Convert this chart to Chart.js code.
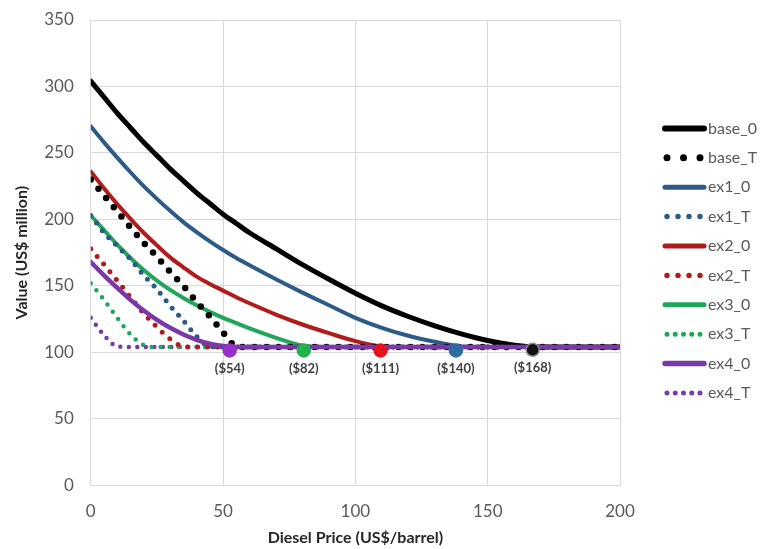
<!DOCTYPE html>
<html lang="en">

<head>
   <meta charset="UTF-8">
   <title>Diesel Price chart</title>
   <style>
      body {
         margin: 0;
         background: #fff;
      }

      .canvasWindow {
         width: 767px;
         height: 549px;
      }
   </style>
</head>

<body>
   <div class="canvasWindow">
      <canvas id="myChartLine" width="767" height="549"></canvas>
   </div>
   <script src="https://cdn.jsdelivr.net/npm/chart.js@4.4.0/dist/chart.umd.min.js"></script>
   <script>
      // diesel price (US$/barrel)
      var xs = [0, 5, 10, 15, 20, 25, 30, 35, 40, 45, 50, 55, 60, 70, 80, 90, 100, 110, 120, 130, 140, 150, 160, 170, 180, 190, 200];

      // value (US$ million)
      var base0 = [304, 292, 280, 269, 258, 248, 238, 229, 220, 212, 204, 197, 190, 178, 166, 155, 144.5, 135, 127, 120, 114, 109, 105.5, 104, 104, 104, 104];
      var baseT = [230, 218, 206, 194, 182.5, 172, 160.5, 150, 138, 127, 115, 104.5, 104, 104, 104, 104, 104, 104, 104, 104, 104, 104, 104, 104, 104, 104, 104];
      var ex1_0 = [270, 258, 246.5, 235.5, 225, 215.5, 206.5, 198, 190.5, 183.5, 177, 171, 165.5, 155, 145, 135.5, 126, 118.5, 112.5, 108, 104.5, 104, 104, 104, 104, 104, 104];
      var ex1_T = [203, 190, 180, 170, 158, 147.5, 135, 124, 112, 104.5, 104, 104, 104, 104, 104, 104, 104, 104, 104, 104, 104, 104, 104, 104, 104, 104, 104];
      var ex2_0 = [236, 223.5, 211.5, 200.5, 190, 180.5, 171.5, 164, 157, 151.5, 146.5, 141.5, 137, 128.5, 121, 114.5, 108.5, 104.5, 104, 104, 104, 104, 104, 104, 104, 104, 104];
      var ex2_T = [178, 166, 154, 141.5, 129.5, 119, 110, 104.5, 104, 104, 104, 104, 104, 104, 104, 104, 104, 104, 104, 104, 104, 104, 104, 104, 104, 104, 104];
      var ex3_0 = [203, 192, 181, 171, 162, 154, 147, 141, 135.5, 130.5, 126, 122, 118, 111, 105, 104, 104, 104, 104, 104, 104, 104, 104, 104, 104, 104, 104];
      var ex3_T = [152, 139.5, 126, 113.5, 105.5, 104, 104, 104, 104, 104, 104, 104, 104, 104, 104, 104, 104, 104, 104, 104, 104, 104, 104, 104, 104, 104, 104];
      var ex4_0 = [168, 158, 148.5, 139.5, 131.5, 124.5, 118.5, 113.5, 109.5, 106.5, 104.8, 104, 104, 104, 104, 104, 104, 104, 104, 104, 104, 104, 104, 104, 104, 104, 104];
      var ex4_T = [126, 113, 104.5, 104, 104, 104, 104, 104, 104, 104, 104, 104, 104, 104, 104, 104, 104, 104, 104, 104, 104, 104, 104, 104, 104, 104, 104];

      // break-even markers
      var markerX = [52.5, 80.5, 109.5, 138, 167];
      var markerY = [101.5, 101.5, 101.5, 101.5, 102];
      var markerLabels = ['($54)', '($82)', '($111)', '($140)', '($168)'];
      var markerColors = ['#9530c8', '#22b24c', '#e3141c', '#2e6ca4', '#111111'];
      var markerRims = ['#9530c8', '#22b24c', '#e3141c', '#2e6ca4', '#8c8c8c'];

      var FONT = 'Lato, "Open Sans", sans-serif';

      var toPoints = function (ys) {
         return ys.map(function (y, i) {
            return { x: xs[i], y: y };
         });
      };

      var solid = function (label, ys, color, width, order) {
         return {
            label: label,
            data: toPoints(ys),
            borderColor: color,
            backgroundColor: color,
            borderWidth: width,
            borderCapStyle: 'round',
            pointRadius: 0,
            cubicInterpolationMode: 'monotone',
            order: order
         };
      };

      var dotted = function (label, ys, color, width, gap, legendDots) {
         return {
            label: label,
            data: toPoints(ys),
            borderColor: color,
            backgroundColor: color,
            borderWidth: width,
            borderDash: [0, gap],
            borderCapStyle: 'round',
            pointRadius: 0,
            cubicInterpolationMode: 'monotone',
            legendDots: legendDots,
            order: 2
         };
      };

      var markerData = markerX.map(function (x, i) {
         return { x: x, y: markerY[i] };
      });

      //labels under the markers
      var markerLabelPlugin = {
         id: 'markerLabels',
         afterDatasetsDraw: function (chart) {
            var ctx = chart.ctx;
            var sx = chart.scales.x;
            var sy = chart.scales.y;
            ctx.save();
            ctx.font = 'bold 13px ' + FONT;
            ctx.fillStyle = '#404040';
            ctx.textAlign = 'center';
            ctx.textBaseline = 'middle';
            markerLabels.forEach(function (t, i) {
               ctx.fillText(t, sx.getPixelForValue(markerX[i]), sy.getPixelForValue(markerY[i]) + 18);
            });
            ctx.restore();
         }
      };

      //legend on the right, line samples + names
      var sideLegendPlugin = {
         id: 'sideLegend',
         afterDraw: function (chart) {
            var ctx = chart.ctx;
            var area = chart.chartArea;
            var sets = chart.data.datasets.filter(function (d) { return d.label !== 'markers'; });
            var rowH = 29.4;
            var x0 = area.right + 43;
            var y0 = (area.top + area.bottom) / 2 + 8 - rowH * (sets.length - 1) / 2;
            ctx.save();
            sets.forEach(function (d, i) {
               var y = y0 + i * rowH;
               ctx.beginPath();
               ctx.strokeStyle = d.borderColor;
               ctx.lineCap = 'round';
               if (d.borderDash) {
                  var n = d.legendDots;
                  var step = 33 / (n - 1);
                  ctx.lineWidth = d.borderWidth + 0.5;
                  ctx.setLineDash([0, step]);
                  ctx.moveTo(x0 + 4, y);
                  ctx.lineTo(x0 + 38, y);
               } else {
                  ctx.lineWidth = d.borderWidth + 1;
                  ctx.setLineDash([]);
                  ctx.moveTo(x0 + 2, y);
                  ctx.lineTo(x0 + 41, y);
               }
               ctx.stroke();
               ctx.setLineDash([]);
               ctx.font = '16px ' + FONT;
               ctx.fillStyle = '#595959';
               ctx.textAlign = 'left';
               ctx.textBaseline = 'middle';
               ctx.fillText(d.label, x0 + 45, y);
            });
            ctx.restore();
         }
      };

      var ctxLine = document.getElementById('myChartLine');
      var myLineChart = new Chart(ctxLine, {
         type: 'line',
         data: {
            datasets: [
               solid('base_0', base0, '#000000', 5, 6),
               dotted('base_T', baseT, '#000000', 6.5, 12, 3),
               solid('ex1_0', ex1_0, '#2c5b87', 4, 5),
               dotted('ex1_T', ex1_T, '#2c5b87', 5, 9.5, 4),
               solid('ex2_0', ex2_0, '#b01c1c', 4, 4),
               dotted('ex2_T', ex2_T, '#b01c1c', 5, 10, 4),
               solid('ex3_0', ex3_0, '#1fa65a', 4, 3),
               dotted('ex3_T', ex3_T, '#1fa65a', 4.5, 9, 5),
               solid('ex4_0', ex4_0, '#7a38a8', 4.5, 1),
               dotted('ex4_T', ex4_T, '#7a38a8', 4.5, 8.5, 5),
               {
                  label: 'markers',
                  type: 'scatter',
                  data: markerData,
                  pointRadius: 6.5,
                  pointBackgroundColor: markerColors,
                  pointBorderColor: markerRims,
                  pointBorderWidth: 1.5,
                  showLine: false,
                  order: 0
               }
            ]
         },
         options: {
            responsive: false,
            animation: false,
            layout: {
               autoPadding: false,
               padding: { top: 20, left: 12, right: 147, bottom: 2 }
            },
            plugins: {
               legend: { display: false },
               tooltip: { enabled: false }
            },
            scales: {
               x: {
                  type: 'linear',
                  min: 0,
                  max: 200,
                  ticks: {
                     stepSize: 50,
                     padding: 16,
                     color: '#595959',
                     font: { family: FONT, size: 17 }
                  },
                  grid: { color: '#d9d9d9', drawTicks: false },
                  border: { color: '#d9d9d9' },
                  title: {
                     display: true,
                     text: 'Diesel Price (US$/barrel)',
                     color: '#262626',
                     font: { family: FONT, size: 16, weight: 'bold' },
                     padding: { top: -10, bottom: 0 }
                  }
               },
               y: {
                  min: 0,
                  max: 350,
                  ticks: {
                     stepSize: 50,
                     padding: 17,
                     color: '#595959',
                     font: { family: FONT, size: 17, lineHeight: 0.35 }
                  },
                  grid: { color: '#d9d9d9', drawTicks: false },
                  border: { color: '#d9d9d9' },
                  title: {
                     display: true,
                     text: 'Value (US$ million)',
                     color: '#262626',
                     font: { family: FONT, size: 16, weight: 'bold' },
                     padding: { top: 0, bottom: -4 }
                  }
               }
            }
         },
         plugins: [markerLabelPlugin, sideLegendPlugin]
      });
   </script>
</body>

</html>
